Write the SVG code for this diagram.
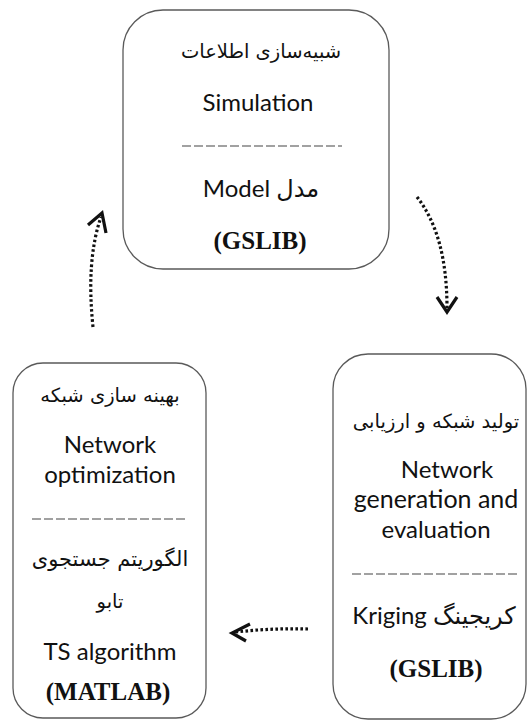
<svg xmlns="http://www.w3.org/2000/svg" width="529" height="722" viewBox="0 0 529 722">
<style>
.box{fill:#fff;stroke:#5a5a5a;stroke-width:1.3}
.en{font-family:Lato,"DejaVu Sans",sans-serif;font-size:24px;fill:#111;text-anchor:middle}
.fa{font-family:"DejaVu Sans",sans-serif;font-size:19.5px;fill:#111;text-anchor:middle}
.bd{font-family:"Liberation Serif",serif;font-weight:bold;font-size:25px;fill:#111;text-anchor:middle}
.dash{stroke:#444;stroke-width:1.2;stroke-dasharray:9 3}
.dot{fill:none;stroke:#111;stroke-width:3.2;stroke-dasharray:2.6 2.4}
.head{fill:none;stroke:#111;stroke-width:3.2;stroke-linejoin:miter}
</style>
<rect width="529" height="722" fill="#fff"/>
<g id="node-simulation">
<rect class="box" x="123" y="10" width="266" height="259" rx="40"/>
<text class="fa" x="261" y="58">شبیه‌سازی اطلاعات</text>
<text class="en" x="258" y="111">Simulation</text>
<line class="dash" x1="182" y1="146" x2="342" y2="146"/>
<text class="en" x="261" y="197">Model مدل</text>
<text class="bd" x="260" y="249">(GSLIB)</text>
</g>
<g id="node-optimization">
<rect class="box" x="13" y="363" width="193" height="355" rx="30"/>
<text class="fa" x="110" y="402">بهینه سازی شبکه</text>
<text class="en" x="110" y="453">Network</text>
<text class="en" x="110" y="483">optimization</text>
<line class="dash" x1="32" y1="519" x2="187" y2="519"/>
<text class="fa" x="110" y="566" style="font-size:21px">الگوریتم جستجوی</text>
<text class="fa" x="110" y="608">تابو</text>
<text class="en" x="110" y="660">TS algorithm</text>
<text class="bd" x="108" y="700">(MATLAB)</text>
</g>
<g id="node-generation">
<rect class="box" x="333" y="354" width="193" height="365" rx="35"/>
<text class="fa" x="436" y="428">تولید شبکه و ارزیابی</text>
<text class="en" x="447" y="478">Network</text>
<text class="en" x="436" y="508" style="font-size:25px">generation and</text>
<text class="en" x="436" y="538">evaluation</text>
<line class="dash" x1="352" y1="574" x2="518" y2="574"/>
<text class="en" x="434" y="624">Kriging کریجینگ</text>
<text class="bd" x="436" y="677">(GSLIB)</text>
</g>
<g id="connectors">
<path class="dot" d="M417,197 Q447,235 447,308"/>
<path class="head" d="M437,297 L447,312 L457,297"/>
<path class="dot" d="M308,629 Q272,628 236,632"/>
<path class="head" d="M250,624 L232,633 L246,641"/>
<path class="dot" d="M93,327 Q86,260 101,217"/>
<path class="head" d="M88,225 L102,213 L106,233"/>
</g>
</svg>
